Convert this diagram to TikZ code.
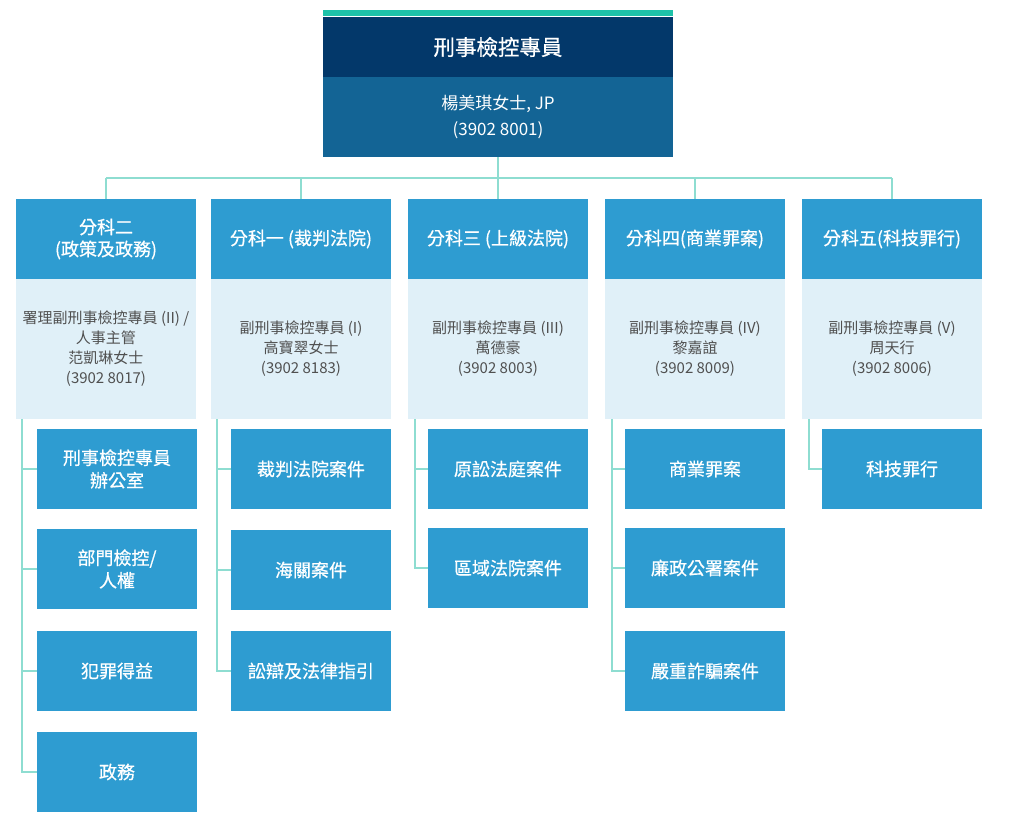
\documentclass[tikz,border=0pt]{standalone}
\usepackage{fontspec}
\setmainfont{Noto Sans CJK TC}
\newfontfamily\medfont[FakeBold=0.6]{Noto Sans CJK TC}
\definecolor{tealbar}{HTML}{1EC2A9}
\definecolor{navy}{HTML}{03386A}
\definecolor{midblue}{HTML}{136495}
\definecolor{hdrblue}{HTML}{2E9CD1}
\definecolor{lightbox}{HTML}{E0F0F8}
\definecolor{connc}{HTML}{8EDDD1}
\definecolor{graytext}{HTML}{505050}
\tikzset{
  base/.style={rectangle, inner sep=2pt, outer sep=0pt, anchor=north west, align=center},
  titlebox/.style={base, fill=navy, text=white, minimum width=350pt, minimum height=60pt, font=\medfont\fontsize{21.5}{25}\selectfont},
  namebox/.style={base, fill=midblue, text=white, minimum width=350pt, minimum height=80pt, font=\fontsize{17}{26}\selectfont},
  hdrbox/.style={base, fill=hdrblue, text=white, minimum width=180pt, minimum height=80pt, font=\medfont\fontsize{18}{22}\selectfont},
  infobox/.style={base, fill=lightbox, text=graytext, minimum width=180pt, minimum height=140pt, font=\fontsize{15}{20}\selectfont},
  subbox/.style={base, fill=hdrblue, text=white, minimum width=160pt, minimum height=80pt, font=\medfont\fontsize{18}{22.5}\selectfont},
  conn/.style={draw=connc, line width=2pt},
}
\begin{document}
\begin{tikzpicture}[x=1pt,y=-1pt]
\useasboundingbox (0,0) rectangle (1015,835);
\fill[tealbar] (323,10) rectangle (673,15.5);
% top
\node[titlebox] (title) at (323,17) {刑事檢控專員};
\node[namebox] (name) at (323,77) {楊美琪女士, JP\\(3902 8001)};
% columns
\node[hdrbox] (h1) at (16,199) {分科二\\(政策及政務)};
\node[hdrbox] (h2) at (211,199) {分科一 (裁判法院)};
\node[hdrbox] (h3) at (408,199) {分科三 (上級法院)};
\node[hdrbox] (h4) at (605,199) {分科四(商業罪案)};
\node[hdrbox] (h5) at (802,199) {分科五(科技罪行)};
\node[infobox] (i1) at (16,279) {署理副刑事檢控專員 (II) /\\人事主管\\范凱琳女士\\(3902 8017)};
\node[infobox] (i2) at (211,279) {副刑事檢控專員 (I)\\高寶翠女士\\(3902 8183)};
\node[infobox] (i3) at (408,279) {副刑事檢控專員 (III)\\萬德豪\\(3902 8003)};
\node[infobox] (i4) at (605,279) {副刑事檢控專員 (IV)\\黎嘉誼\\(3902 8009)};
\node[infobox] (i5) at (802,279) {副刑事檢控專員 (V)\\周天行\\(3902 8006)};
% sub boxes
\node[subbox] (s11) at (37,429) {刑事檢控專員\\辦公室};
\node[subbox] (s12) at (37,529) {部門檢控/\\人權};
\node[subbox] (s13) at (37,631) {犯罪得益};
\node[subbox] (s14) at (37,732) {政務};
\node[subbox] (s21) at (231,429) {裁判法院案件};
\node[subbox] (s22) at (231,530) {海關案件};
\node[subbox] (s23) at (231,631) {訟辯及法律指引};
\node[subbox] (s31) at (428,429) {原訟法庭案件};
\node[subbox] (s32) at (428,528) {區域法院案件};
\node[subbox] (s41) at (625,429) {商業罪案};
\node[subbox] (s42) at (625,528) {廉政公署案件};
\node[subbox] (s43) at (625,631) {嚴重詐騙案件};
\node[subbox] (s51) at (822,429) {科技罪行};
% bus
\coordinate (bus) at (498,178);
\draw[conn] (name.south) -- (name.south |- bus);
\draw[conn] (h1.north |- bus) -- (h5.north |- bus);
\foreach \h in {h1,h2,h3,h4,h5} {
  \draw[conn] (\h.north |- bus) -- (\h.north);
}
% trees
\coordinate (t1) at ([xshift=6pt]i1.south west);
\coordinate (t2) at ([xshift=6pt]i2.south west);
\coordinate (t3) at ([xshift=7pt]i3.south west);
\coordinate (t4) at ([xshift=7pt]i4.south west);
\coordinate (t5) at ([xshift=7pt]i5.south west);
\draw[conn] (t1) |- (s14.west);
\draw[conn] (t2) |- (s23.west);
\draw[conn] (t3) |- (s32.west);
\draw[conn] (t4) |- (s43.west);
\draw[conn] (t5) |- (s51.west);
\foreach \s/\t in {s11/t1,s12/t1,s13/t1,s21/t2,s22/t2,s31/t3,s41/t4,s42/t4} {
  \draw[conn] (\s.west) -- (\s.west -| \t);
}
\end{tikzpicture}
\end{document}
